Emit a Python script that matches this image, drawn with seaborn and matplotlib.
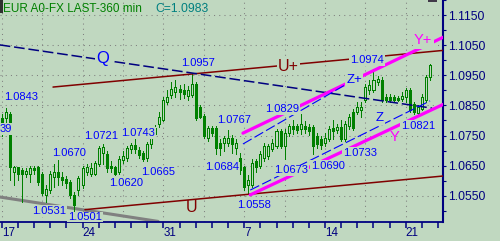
import numpy as np
import pandas as pd
import matplotlib
matplotlib.use("Agg")
import matplotlib.pyplot as plt
import seaborn as sns
from matplotlib.patches import Rectangle

# ---------------- data (360-min candles) ----------------
opens = [1.0807, 1.0807, 1.0823, 1.0628, 1.0644, 1.0634, 1.0624, 1.0624, 1.0641, 1.0644,
         1.0624, 1.0553, 1.0569, 1.0611, 1.0628, 1.0611, 1.0605, 1.0595, 1.0553, 1.0569,
         1.0585, 1.0628, 1.0621, 1.0624, 1.0657, 1.0693, 1.0689, 1.0650, 1.0644, 1.0628,
         1.0670, 1.0676, 1.0706, 1.0719, 1.0702, 1.0693, 1.0676, 1.0722, 1.0754, 1.0787,
         1.0803, 1.0862, 1.0885, 1.0895, 1.0904, 1.0901, 1.0882, 1.0885, 1.0921, 1.0846,
         1.0816, 1.0741, 1.0774, 1.0774, 1.0725, 1.0725, 1.0725, 1.0741, 1.0709, 1.0676,
         1.0644, 1.0585, 1.0585, 1.0667, 1.0650, 1.0676, 1.0683, 1.0706, 1.0715, 1.0764,
         1.0715, 1.0758, 1.0781, 1.0781, 1.0771, 1.0781, 1.0777, 1.0777, 1.0748, 1.0738,
         1.0725, 1.0738, 1.0774, 1.0767, 1.0777, 1.0738, 1.0781, 1.0829, 1.0829, 1.0836,
         1.0869, 1.0901, 1.0901, 1.0927, 1.0934, 1.0878, 1.0878, 1.0878, 1.0875, 1.0872,
         1.0878, 1.0901, 1.0856, 1.0826, 1.0839, 1.0869, 1.0943]
highs = [1.0823, 1.0843, 1.0829, 1.0650, 1.0647, 1.0641, 1.0641, 1.0650, 1.0650, 1.0650,
         1.0628, 1.0585, 1.0631, 1.0657, 1.0670, 1.0628, 1.0615, 1.0601, 1.0562, 1.0615,
         1.0650, 1.0657, 1.0660, 1.0667, 1.0715, 1.0721, 1.0699, 1.0667, 1.0650, 1.0683,
         1.0699, 1.0715, 1.0725, 1.0743, 1.0712, 1.0699, 1.0728, 1.0758, 1.0784, 1.0829,
         1.0878, 1.0901, 1.0927, 1.0934, 1.0917, 1.0921, 1.0914, 1.0957, 1.0927, 1.0852,
         1.0823, 1.0781, 1.0781, 1.0781, 1.0738, 1.0748, 1.0767, 1.0751, 1.0738, 1.0693,
         1.0650, 1.0618, 1.0673, 1.0673, 1.0699, 1.0725, 1.0722, 1.0738, 1.0771, 1.0771,
         1.0771, 1.0790, 1.0803, 1.0790, 1.0823, 1.0797, 1.0787, 1.0784, 1.0758, 1.0748,
         1.0758, 1.0781, 1.0803, 1.0790, 1.0803, 1.0797, 1.0823, 1.0839, 1.0862, 1.0862,
         1.0921, 1.0934, 1.0966, 1.0947, 1.0943, 1.0888, 1.0888, 1.0885, 1.0882, 1.0895,
         1.0908, 1.0908, 1.0862, 1.0852, 1.0888, 1.0950, 1.0989]
lows = [1.0748, 1.0790, 1.0601, 1.0585, 1.0601, 1.0531, 1.0611, 1.0595, 1.0621, 1.0585,
        1.0553, 1.0530, 1.0559, 1.0579, 1.0585, 1.0585, 1.0575, 1.0543, 1.0501, 1.0553,
        1.0575, 1.0618, 1.0615, 1.0618, 1.0650, 1.0657, 1.0628, 1.0628, 1.0620, 1.0621,
        1.0660, 1.0667, 1.0693, 1.0693, 1.0676, 1.0665, 1.0667, 1.0709, 1.0741, 1.0777,
        1.0797, 1.0856, 1.0875, 1.0878, 1.0872, 1.0875, 1.0869, 1.0878, 1.0803, 1.0807,
        1.0741, 1.0731, 1.0748, 1.0690, 1.0684, 1.0699, 1.0715, 1.0693, 1.0690, 1.0624,
        1.0569, 1.0558, 1.0579, 1.0628, 1.0641, 1.0667, 1.0673, 1.0699, 1.0709, 1.0709,
        1.0673, 1.0748, 1.0754, 1.0758, 1.0754, 1.0758, 1.0751, 1.0690, 1.0709, 1.0706,
        1.0715, 1.0731, 1.0738, 1.0758, 1.0731, 1.0733, 1.0771, 1.0767, 1.0820, 1.0813,
        1.0862, 1.0888, 1.0895, 1.0917, 1.0862, 1.0862, 1.0862, 1.0862, 1.0865, 1.0865,
        1.0862, 1.0829, 1.0821, 1.0823, 1.0836, 1.0862, 1.0934]
closes = [1.0758, 1.0829, 1.0644, 1.0644, 1.0624, 1.0624, 1.0631, 1.0641, 1.0634, 1.0595,
          1.0559, 1.0572, 1.0624, 1.0628, 1.0611, 1.0601, 1.0592, 1.0553, 1.0520, 1.0608,
          1.0641, 1.0647, 1.0641, 1.0660, 1.0709, 1.0712, 1.0641, 1.0641, 1.0624, 1.0673,
          1.0683, 1.0709, 1.0719, 1.0706, 1.0686, 1.0673, 1.0722, 1.0748, 1.0774, 1.0813,
          1.0869, 1.0878, 1.0904, 1.0911, 1.0895, 1.0888, 1.0901, 1.0921, 1.0807, 1.0813,
          1.0748, 1.0774, 1.0758, 1.0709, 1.0709, 1.0741, 1.0741, 1.0722, 1.0725, 1.0634,
          1.0579, 1.0601, 1.0660, 1.0644, 1.0689, 1.0715, 1.0715, 1.0725, 1.0764, 1.0715,
          1.0758, 1.0781, 1.0771, 1.0767, 1.0787, 1.0771, 1.0764, 1.0715, 1.0722, 1.0719,
          1.0741, 1.0771, 1.0764, 1.0777, 1.0738, 1.0787, 1.0813, 1.0774, 1.0846, 1.0846,
          1.0911, 1.0917, 1.0934, 1.0937, 1.0869, 1.0869, 1.0869, 1.0869, 1.0869, 1.0882,
          1.0901, 1.0836, 1.0829, 1.0846, 1.0878, 1.0943, 1.0983]

week_tick_labels = ["17", "24", "31", "7", "14", "21"]
price_tick_values = [1.0550, 1.0650, 1.0750, 1.0850, 1.0950, 1.1050, 1.1150]

# drawing-tool trend lines (candle index, price)
u_plus_x, u_plus_y = [12.7, 109.5], [1.0911, 1.1033]
u_low_x, u_low_y = [20.6, 109.5], [1.0504, 1.0616]
q_x, q_y = [-0.5, 106.5], [1.1051, 1.0841]
gray_x, gray_y = [-0.5, 38.7], [1.0546, 1.0465]
y_plus_x, y_plus_y = [59.7, 109.5], [1.0758, 1.1078]
y_low_x, y_low_y = [61.5, 109.5], [1.0553, 1.0855]
z_plus_x, z_plus_y = [59.7, 86.0], [1.0722, 1.0926]
z_low_x, z_low_y = [61.5, 106.0], [1.0569, 1.0865]

value_labels = ["1.0843", "39", "1.0531", "1.0501", "1.0670", "1.0721", "1.0743",
                "1.0620", "1.0665", "1.0957", "1.0767", "1.0684", "1.0558", "1.0829",
                "1.0673", "1.0690", "1.0733", "1.0974", "1.0821"]
value_label_x = [4.8, -0.42, 11.7, 20.6, 16.7, 24.6, 33.7, 30.8, 38.7, 48.6, 57.5, 54.5,
                 62.5, 69.4, 71.6, 80.8, 88.7, 90.4, 103.0]
value_label_y = [1.0878, 1.0771, 1.0500, 1.0478, 1.0693, 1.0748, 1.0758, 1.0592, 1.0628,
                 1.0992, 1.0803, 1.0644, 1.0520, 1.0839, 1.0634, 1.0650, 1.0693, 1.1002,
                 1.0781]
value_label_ha = ["center", "left"] + ["center"] * 17

tool_labels = ["Q", "U+", "U", "Y+", "Y", "Z+", "Z"]
tool_label_x = [25.1, 70.9, 46.9, 104.3, 97.1, 87.2, 93.6]
tool_label_y = [1.1005, 1.0979, 1.0510, 1.1066, 1.0745, 1.0934, 1.0807]

# ---------------- style ----------------
BG = "#c0d8c0"
GREEN = "#008000"
NAVY = "#000080"
BLUE = "#0000ff"
MAROON = "#800000"
MAGENTA = "#ff00ff"

sns.set_theme(style="white")
plt.rcParams["font.family"] = ["Liberation Sans", "DejaVu Sans"]

W, H = 500, 241
fig = plt.figure(figsize=(W / 100, H / 100), dpi=100, facecolor=BG)
ax = fig.add_axes([0, 19 / H, 443 / W, 222 / H])
ax.set_facecolor(BG)

df = pd.DataFrame({"i": np.arange(len(opens)), "o": opens, "h": highs,
                   "l": lows, "c": closes})

ax.set_xlim(-0.42, 109.2)
ax.set_ylim(1.0463, 1.1189)

# grid
for p in price_tick_values:
    ax.axhline(p, color="#808080", lw=0.75, ls=(0, (1, 4)), zorder=0.5)
for g in range(0, 110, 10):
    ax.axvline(g, color="#808080", lw=0.75, ls=(0, (1, 4)), zorder=0.5)

# candles
ax.vlines(df["i"], df["l"], df["h"], color=GREEN, lw=0.72, zorder=3, antialiased=False)
up = df["c"] >= df["o"]
body_lo = np.minimum(df["o"], df["c"])
body_h = np.maximum(np.abs(df["c"] - df["o"]), 0.00005)
ax.bar(df["i"][up], body_h[up], bottom=body_lo[up], width=0.5,
       facecolor=BG, edgecolor=GREEN, linewidth=0.72, zorder=3.2, antialiased=False)
ax.bar(df["i"][~up], body_h[~up], bottom=body_lo[~up], width=0.5,
       facecolor=GREEN, edgecolor=GREEN, linewidth=0.72, zorder=3.2, antialiased=False)

# trend lines via seaborn
def seg(xs, ys, **kw):
    sns.lineplot(x=xs, y=ys, ax=ax, legend=False, sort=False, **kw)

seg(gray_x, gray_y, color="#808080", linewidth=2.2, zorder=2)
seg(u_plus_x, u_plus_y, color=MAROON, linewidth=1.1, zorder=4)
seg(u_low_x, u_low_y, color=MAROON, linewidth=1.1, zorder=4)
seg(q_x, q_y, color=NAVY, linewidth=1.1, linestyle=(0, (7, 2.5)), zorder=4)
seg(y_plus_x, y_plus_y, color=MAGENTA, linewidth=2.3, zorder=4)
seg(y_low_x, y_low_y, color=MAGENTA, linewidth=2.3, zorder=4)
seg(z_plus_x, z_plus_y, color=BLUE, linewidth=0.8, linestyle=(0, (9, 3)), zorder=4.1)
seg(z_low_x, z_low_y, color=BLUE, linewidth=0.8, linestyle=(0, (9, 3)), zorder=4.1)

box = dict(boxstyle="square,pad=0.08", facecolor=BG, edgecolor="none")
for t, x, y, ha in zip(value_labels, value_label_x, value_label_y, value_label_ha):
    ax.text(x, y, t, color=BLUE, fontsize=8, ha=ha, va="center",
            bbox=box, zorder=6, clip_on=True)

tool_colors = [BLUE, MAROON, MAROON, MAGENTA, MAGENTA, BLUE, BLUE]
tool_sizes = [12, 11.5, 11.5, 10.5, 10.5, 9.5, 9.5]
tool_boxes = [True, True, False, True, False, True, True]
for t, x, y, c, s, b in zip(tool_labels, tool_label_x, tool_label_y, tool_colors,
                             tool_sizes, tool_boxes):
    ax.text(x, y, t, color=c, fontsize=s, ha="center", va="center",
            bbox=box if b else None, zorder=6)

# axes styling
for side in ["top", "left"]:
    ax.spines[side].set_visible(False)
ax.spines["bottom"].set_color(NAVY)
ax.spines["bottom"].set_linewidth(1.3)
ax.spines["right"].set_color(NAVY)
ax.spines["right"].set_linewidth(1.5)

ax.yaxis.tick_right()
ax.set_yticks(price_tick_values)
ax.set_yticklabels([f"{v:.4f}" for v in price_tick_values])
ax.set_yticks([v - 0.005 for v in price_tick_values] + [1.1200], minor=True)
ax.tick_params(axis="y", which="both", right=True, left=False, direction="out",
               length=2.5, width=0.8, color=NAVY, labelcolor=NAVY,
               labelsize=8.7, pad=1.5)

ax.set_xticks(range(0, 101, 20))
ax.set_xticklabels(week_tick_labels)
ax.set_xticks(range(0, 109, 4), minor=True)
ax.tick_params(axis="x", which="both", bottom=True, direction="out", length=4.3,
               width=1.1, color=NAVY, labelcolor=NAVY, labelsize=8.4, pad=-0.8)
for lab in ax.get_xticklabels():
    lab.set_horizontalalignment("left")
ax.set_xlabel("")
ax.set_ylabel("")

# header text
fig.text(3 / W, 1 - 8.5 / H, "EUR A0-FX LAST-360 min", color=GREEN, fontsize=8.5,
         ha="left", va="center")
fig.text(155 / W, 1 - 8.5 / H, "C=1.0983", color="#008080", fontsize=8.7,
         ha="left", va="center")
fig.patches.append(Rectangle((0, 1 - 13 / H), 2.5 / W, 13 / H, transform=fig.transFigure,
                             facecolor="#303030", edgecolor="none"))
fig.patches.append(Rectangle((428 / W, 1 - 2 / H), 9 / W, 2 / H, transform=fig.transFigure,
                             facecolor="#403848", edgecolor="none"))

fig.savefig("out.png", dpi=100, facecolor=BG)
